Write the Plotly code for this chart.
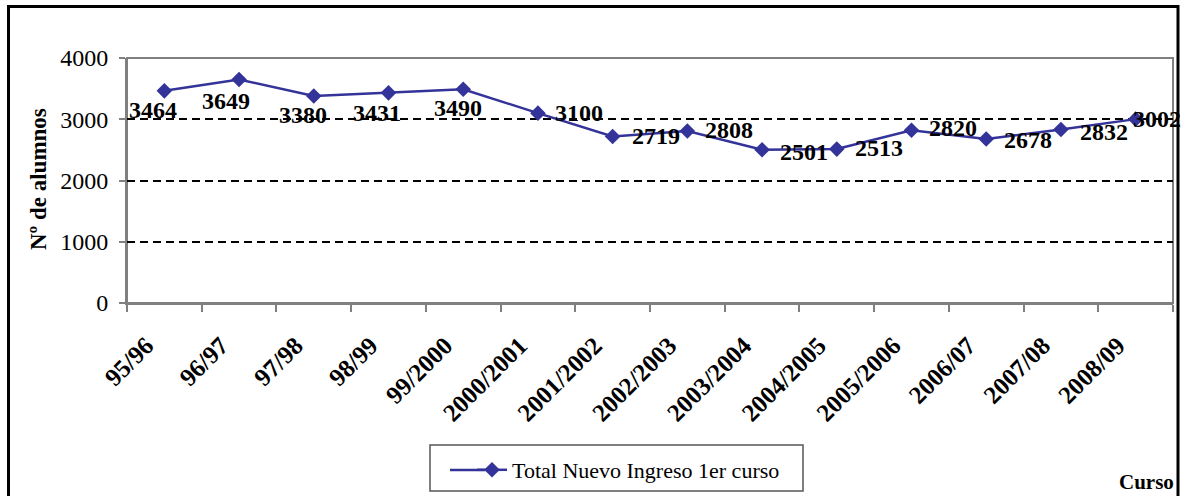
import plotly.graph_objects as go

cursos = ["95/96", "96/97", "97/98", "98/99", "99/2000", "2000/2001", "2001/2002",
          "2002/2003", "2003/2004", "2004/2005", "2005/2006", "2006/07", "2007/08", "2008/09"]
alumnos = [3464, 3649, 3380, 3431, 3490, 3100, 2719, 2808, 2501, 2513, 2820, 2678, 2832, 3002]
serie_nombre = "Total Nuevo Ingreso 1er curso"
y_ticks = [0, 1000, 2000, 3000, 4000]

# label offsets (pixels) relative to each marker
label_dx = [-11, -13, -11, -12, -5, 41, 43, 42, 42, 42, 41, 42, 43, 21]
label_dy = [19, 21, 19, 20, 19, 0, 0, -1, 2, -1, -2, 1, 2, 0]

W, H = 1189, 496
L, R, T, B = 127, 16, 58, 193
pw, ph = W - L - R, H - T - B

def px(xp):
    return (xp - L) / pw

def py(yp):
    return (H - B - yp) / ph

FONT = "Liberation Serif, Times New Roman, serif"
LINE_COLOR = "#333399"

fig = go.Figure()
fig.add_trace(go.Scatter(
    x=cursos, y=alumnos, mode="lines+markers", name=serie_nombre,
    line=dict(color=LINE_COLOR, width=2.5),
    marker=dict(symbol="diamond", size=12, color=LINE_COLOR),
    showlegend=True,
))

annotations = []
for c, v, dx, dy in zip(cursos, alumnos, label_dx, label_dy):
    annotations.append(dict(
        x=c, y=v, xref="x", yref="y", text=str(v), showarrow=False,
        xshift=dx, yshift=-dy,
        font=dict(family=FONT, size=24, color="black", weight="bold"),
    ))

annotations.append(dict(
    x=px(38), y=py(179), xref="paper", yref="paper", text="Nº de alumnos",
    textangle=-90, showarrow=False, xanchor="center", yanchor="middle",
    font=dict(family=FONT, size=23, color="black", weight="bold"),
))
annotations.append(dict(
    x=px(1146), y=py(482), xref="paper", yref="paper", text="Curso",
    showarrow=False, xanchor="center", yanchor="middle",
    font=dict(family=FONT, size=21, color="black", weight="bold"),
))

shapes = [
    # plot area frame (gray), beneath gridlines
    dict(type="rect", xref="paper", yref="paper", x0=0, x1=1, y0=0, y1=1,
         line=dict(color="#808080", width=2), layer="below"),
    # outer chart border
    dict(type="rect", xref="paper", yref="paper",
         x0=px(8.5), x1=px(1178), y0=py(510), y1=py(6.5),
         line=dict(color="black", width=3), layer="above"),
    # legend frame
    dict(type="rect", xref="paper", yref="paper",
         x0=px(430), x1=px(803), y0=py(491), y1=py(445),
         line=dict(color="#555555", width=1.5), layer="above"),
    # legend symbol line extension
    dict(type="line", xref="paper", yref="paper",
         x0=px(450), x1=px(485), y0=py(470), y1=py(470),
         line=dict(color=LINE_COLOR, width=2.5), layer="above"),
]

fig.update_layout(
    width=W, height=H,
    margin=dict(l=L, r=R, t=T, b=B, autoexpand=False),
    paper_bgcolor="white", plot_bgcolor="white",
    font=dict(family=FONT, color="black"),
    annotations=annotations,
    shapes=shapes,
    legend=dict(
        x=px(472), y=py(470), xanchor="left", yanchor="middle",
        borderwidth=0, bgcolor="rgba(0,0,0,0)",
        font=dict(family=FONT, size=22, color="black"),
    ),
    xaxis=dict(
        type="category", tickangle=-45, tickson="boundaries",
        ticks="outside", ticklen=7, tickwidth=2, tickcolor="#808080",
        showline=True, linecolor="#808080", linewidth=2,
        showgrid=False, zeroline=False,
        tickfont=dict(family=FONT, size=25, color="black", weight="bold"),
        ticklabelshift=-18, ticklabelstandoff=16,
        range=[-0.5, len(cursos) - 0.5],
    ),
    yaxis=dict(
        range=[0, 4000], tickvals=y_ticks, ticks="outside", ticklen=6,
        tickwidth=2, tickcolor="#808080",
        showline=True, linecolor="#808080", linewidth=2,
        showgrid=True, gridcolor="black", gridwidth=2, griddash="8px,5px",
        zeroline=False,
        tickfont=dict(family=FONT, size=24, color="black"),
        ticklabelstandoff=6,
    ),
)

fig.write_html(
    "out.html",
    config={"displayModeBar": False},
    post_script="document.body.style.margin='0';document.body.style.overflow='hidden';",
)
